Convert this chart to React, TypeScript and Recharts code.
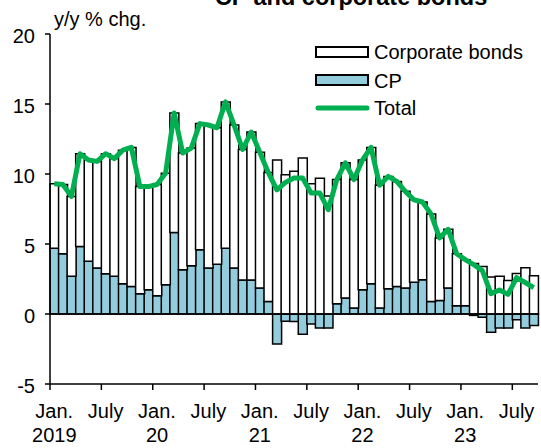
import { ComposedChart, Bar, Line, XAxis, YAxis, ReferenceLine } from 'recharts';

const months = [
  '2019-01', '2019-02', '2019-03', '2019-04', '2019-05', '2019-06', '2019-07', '2019-08', '2019-09', '2019-10', '2019-11', '2019-12',
  '2020-01', '2020-02', '2020-03', '2020-04', '2020-05', '2020-06', '2020-07', '2020-08', '2020-09', '2020-10', '2020-11', '2020-12',
  '2021-01', '2021-02', '2021-03', '2021-04', '2021-05', '2021-06', '2021-07', '2021-08', '2021-09', '2021-10', '2021-11', '2021-12',
  '2022-01', '2022-02', '2022-03', '2022-04', '2022-05', '2022-06', '2022-07', '2022-08', '2022-09', '2022-10', '2022-11', '2022-12',
  '2023-01', '2023-02', '2023-03', '2023-04', '2023-05', '2023-06', '2023-07', '2023-08', '2023-09',
];

// CP contribution (blue)
const cp = [
  4.69, 4.31, 2.69, 4.83, 3.76, 3.29, 2.88, 2.69, 2.16, 1.97, 1.45, 1.74,
  1.31, 2.09, 5.83, 3.16, 3.45, 4.59, 3.29, 3.55, 4.7, 3.29, 2.43, 2.43,
  1.86, 0.9, -2.14, -0.52, -0.53, -1.45, -0.71, -1.0, -1.0, 0.74, 1.14, 0.43,
  1.74, 2.16, 0.43, 1.81, 1.97, 1.86, 2.26, 2.45, 0.9, 0.97, 1.86, 0.59,
  0.59, -0.1, -0.24, -1.3, -1.0, -1.0, -0.41, -1.0, -0.83,
];

// corporate bonds contribution (white)
const corporateBonds = [
  4.61, 4.94, 5.71, 6.62, 7.24, 7.61, 8.57, 8.41, 9.54, 9.93, 7.65, 7.36,
  7.94, 7.96, 8.52, 8.34, 8.4, 9.01, 10.21, 9.75, 10.45, 10.21, 9.32, 10.57,
  9.69, 9.2, 11.0, 9.95, 10.2, 11.15, 9.3, 9.7, 8.43, 8.86, 9.66, 9.17,
  9.26, 9.74, 8.77, 8.02, 7.5, 6.9, 5.9, 5.55, 6.25, 4.46, 4.19, 3.71,
  3.29, 3.6, 3.4, 2.65, 2.7, 2.4, 2.9, 3.3, 2.73,
];

const total = [
  9.3, 9.25, 8.4, 11.45, 11.0, 10.9, 11.45, 11.1, 11.7, 11.9, 9.1, 9.1,
  9.25, 10.05, 14.35, 11.5, 11.85, 13.6, 13.5, 13.3, 15.15, 13.5, 11.75, 13.0,
  11.55, 10.1, 8.87, 9.4, 9.72, 9.72, 8.65, 8.65, 7.45, 9.6, 10.8, 9.6,
  11.0, 11.9, 9.2, 9.83, 9.47, 8.76, 8.16, 8.0, 7.15, 5.43, 6.05, 4.3,
  3.88, 3.52, 3.1, 1.45, 1.72, 1.4, 2.6, 2.25, 1.88,
];

const yTicks = [-5, 0, 5, 10, 15, 20];
const yearLabels = ['2019', '20', '21', '22', '23'];

const W = 541;
const H = 448;
const MARGIN = { top: 34, right: 3, left: 0, bottom: 0 };
const Y_AXIS_W = 50;
const X_AXIS_H = 64;
const BAND = (W - MARGIN.left - MARGIN.right - Y_AXIS_W) / months.length;
const AXIS_Y = H - MARGIN.bottom - X_AXIS_H;
const FONT = 'Liberation Sans, Arial, sans-serif';
const BLUE = '#93cddd';
const GREEN = '#00b050';

const data = months.map((m, i) => ({
  month: m,
  cp: cp[i],
  bonds: corporateBonds[i],
  total: total[i],
}));

function XTick(props: any) {
  const { x, payload } = props;
  const [yr, mo] = String(payload.value).split('-');
  if (mo !== '01' && mo !== '07') return <g />;
  const edge = x - BAND / 2;
  return (
    <g>
      <line x1={edge} x2={edge} y1={AXIS_Y} y2={AXIS_Y + 6} stroke="#000" strokeWidth={1.5} />
      <text x={x} y={418} textAnchor="middle" fontSize={20} fontFamily={FONT} fill="#000">
        {mo === '01' ? 'Jan.' : 'July'}
      </text>
      {mo === '01' && (
        <text x={x} y={442} textAnchor="middle" fontSize={20} fontFamily={FONT} fill="#000">
          {yearLabels[Number(yr) - 2019]}
        </text>
      )}
    </g>
  );
}

function YTick(props: any) {
  const { y, payload } = props;
  return (
    <text x={35} y={y + 9} textAnchor="end" fontSize={20} fontFamily={FONT} fill="#000">
      {payload.value}
    </text>
  );
}

export default function App() {
  return (
    <div style={{ position: 'absolute', left: 0, top: 0, width: W, height: H, background: '#fff' }}>
      <ComposedChart
        width={W}
        height={H}
        data={data}
        margin={MARGIN}
        stackOffset="sign"
        barCategoryGap={0}
        barGap={0}
      >
        <XAxis
          dataKey="month"
          interval={0}
          height={X_AXIS_H}
          tickLine={false}
          axisLine={{ stroke: '#000', strokeWidth: 1.5 }}
          tick={<XTick />}
        />
        <YAxis
          domain={[-5, 20]}
          ticks={yTicks}
          width={Y_AXIS_W}
          tickSize={5}
          axisLine={{ stroke: '#000', strokeWidth: 1.5 }}
          tickLine={{ stroke: '#000', strokeWidth: 1.5 }}
          tick={<YTick />}
          allowDataOverflow
        />
        <Bar dataKey="cp" stackId="a" fill={BLUE} stroke="#000" strokeWidth={1.5} isAnimationActive={false} />
        <Bar dataKey="bonds" stackId="a" fill="#fff" stroke="#000" strokeWidth={1.5} isAnimationActive={false} />
        <ReferenceLine y={0} stroke="#000" strokeWidth={1.5} />
        <Line
          dataKey="total"
          type="linear"
          stroke={GREEN}
          strokeWidth={5}
          strokeLinejoin="round"
          dot={false}
          activeDot={false}
          isAnimationActive={false}
        />
      </ComposedChart>
      <svg
        width={W}
        height={H}
        style={{ position: 'absolute', left: 0, top: 0, pointerEvents: 'none' }}
        fontFamily={FONT}
      >
        <text x={351} y={5} textAnchor="middle" fontSize={23.5} fontWeight="bold" fill="#000">
          CP and corporate bonds
        </text>
        <text x={54} y={26} fontSize={20} fill="#000">y/y % chg.</text>
        <rect x={316} y={47} width={52} height={10} fill="#fff" stroke="#000" strokeWidth={2} />
        <text x={374} y={59} fontSize={20} fill="#000">Corporate bonds</text>
        <rect x={316} y={75} width={52} height={10} fill={BLUE} stroke="#000" strokeWidth={2} />
        <text x={374} y={87.5} fontSize={20} fill="#000">CP</text>
        <line x1={318} x2={367} y1={108} y2={108} stroke={GREEN} strokeWidth={5} strokeLinecap="round" />
        <text x={374} y={115} fontSize={20} fill="#000">Total</text>
      </svg>
    </div>
  );
}
